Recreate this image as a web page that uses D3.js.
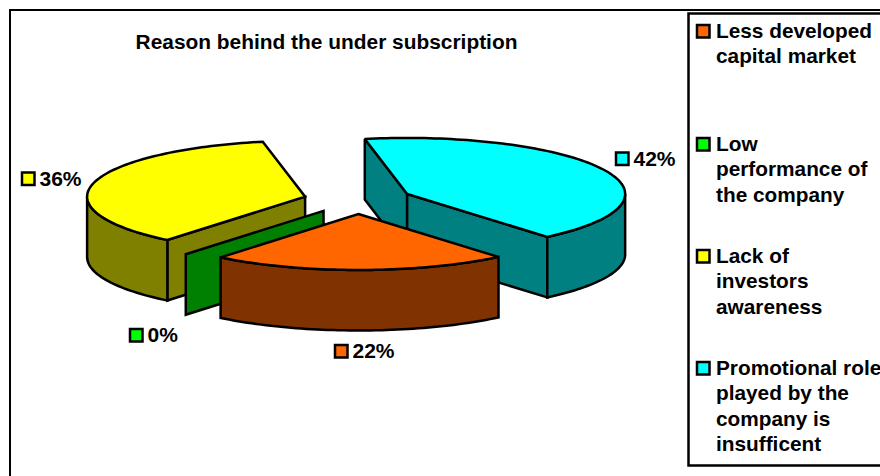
<!DOCTYPE html>
<html>
<head>
<meta charset="utf-8">
<script src="https://cdn.jsdelivr.net/npm/d3@7/dist/d3.min.js"></script>
<style>
  html, body { margin: 0; background: #fff; }
  svg { display: block; }
  text { font-family: "Liberation Sans", Arial, sans-serif; font-weight: bold; fill: #000; }
</style>
</head>
<body>
<svg id="chart" width="880" height="476"></svg>
<script>
// Chart content
const chartTitle = "Reason behind the under subscription";
const categories = [
  ["Less developed", "capital market"],
  ["Low", "performance of", "the company"],
  ["Lack of", "investors", "awareness"],
  ["Promotional role", "played by the", "company is", "insufficent"]
];
const shareValues = [22, 0, 36, 42];
const topColors = ["#ff6600", "#00ff00", "#ffff00", "#00ffff"];
const wallColors = ["#803300", "#008000", "#808000", "#008080"];

// Pie geometry: a tilted ellipse extruded downwards, slices pulled out of the centre
const cx = 358, cy = 200, rx = 218, ry = 56, depth = 60.5, explode = 0.25;
const rotation = 140 * Math.PI / 180;

// Label and legend layout
const labelSwatches = [[334, 344], [129, 328], [21, 171.5], [615, 151.5]];
const legendTops = [24, 137, 249, 361];
const legendLineStep = 25.4;

const svg = d3.select("#chart");
const line = d3.line();

const slices = d3.pie().sort(null)
  .startAngle(rotation)
  .endAngle(rotation + 2 * Math.PI)(shareValues);

function rimPoint(a, ox, oy, drop = 0) {
  return [ox + rx * Math.sin(a), oy - ry * Math.cos(a) + drop];
}
function arcPoints(a0, a1, ox, oy, drop = 0) {
  const n = Math.max(2, Math.ceil(Math.abs(a1 - a0) * 40));
  return d3.range(n + 1).map(i => rimPoint(a0 + (a1 - a0) * i / n, ox, oy, drop));
}

const layers = slices.map((s, i) => {
  const mid = (s.startAngle + s.endAngle) / 2;
  const ox = cx + explode * rx * Math.sin(mid);
  const oy = cy - explode * ry * Math.cos(mid);
  return { s, i, ox, oy };
});

const g = svg.append("g")
  .attr("stroke", "#000").attr("stroke-width", 2.5)
  .attr("stroke-linejoin", "miter").attr("stroke-miterlimit", 2);

function wall(points, color) {
  g.append("path").attr("d", line(points) + "Z").attr("fill", color);
}

// A flat wall from the slice apex to its rim, extruded by the pie depth
function radialWall(d, a) {
  const apex = [d.ox, d.oy];
  const rim = rimPoint(a, d.ox, d.oy);
  wall([apex, rim, [rim[0], rim[1] + depth], [apex[0], apex[1] + depth]], wallColors[d.i]);
}

// Rim portion of a slice, only the part on the viewer's side of the ellipse
function outerWall(d) {
  const frontRanges = [[Math.PI / 2, 3 * Math.PI / 2], [5 * Math.PI / 2, 7 * Math.PI / 2]];
  frontRanges.forEach(([f0, f1]) => {
    const a0 = Math.max(d.s.startAngle, f0);
    const a1 = Math.min(d.s.endAngle, f1);
    if (a1 <= a0) return;
    const top = arcPoints(a0, a1, d.ox, d.oy);
    const bottom = arcPoints(a1, a0, d.ox, d.oy, depth);
    wall(top.concat(bottom), wallColors[d.i]);
  });
}

function topFace(d) {
  const pts = [[d.ox, d.oy]].concat(arcPoints(d.s.startAngle, d.s.endAngle, d.ox, d.oy));
  wall(pts, topColors[d.i]);
}

// Painted back to front: promotional, lack of awareness, zero slice, capital market
const [orange, green, yellow, cyan] = layers;

radialWall(cyan, cyan.s.startAngle);
radialWall(cyan, cyan.s.endAngle);
outerWall(cyan);
topFace(cyan);

radialWall(yellow, yellow.s.startAngle);
outerWall(yellow);
topFace(yellow);

radialWall(green, green.s.startAngle);

outerWall(orange);
topFace(orange);

// Frame around the chart area and the legend panel; both run off the right edge
svg.append("path")
  .attr("d", "M890,10H10V486")
  .attr("fill", "none").attr("stroke", "#000").attr("stroke-width", 2);
svg.append("path")
  .attr("d", "M890,13.5H688.5V465.5H890")
  .attr("fill", "none").attr("stroke", "#000").attr("stroke-width", 2.5);

svg.append("text")
  .attr("x", 326.5).attr("y", 49)
  .attr("text-anchor", "middle")
  .attr("font-size", 20.9)
  .text(chartTitle);

function swatch(x, y, color) {
  svg.append("rect")
    .attr("x", x + 1).attr("y", y + 1)
    .attr("width", 12.5).attr("height", 12.5)
    .attr("fill", color).attr("stroke", "#000").attr("stroke-width", 2.5);
}

// Percentage labels with their colour keys
shareValues.forEach((v, i) => {
  const [x, y] = labelSwatches[i];
  swatch(x, y, topColors[i]);
  svg.append("text")
    .attr("x", x + 18.5).attr("y", y + 14)
    .attr("font-size", 21)
    .text(v + "%");
});

// Legend entries
categories.forEach((lines, i) => {
  const top = legendTops[i];
  swatch(696, top, topColors[i]);
  lines.forEach((t, k) => {
    svg.append("text")
      .attr("x", 716).attr("y", top + 14 + k * legendLineStep)
      .attr("font-size", 20.8)
      .text(t);
  });
});
</script>
</body>
</html>
